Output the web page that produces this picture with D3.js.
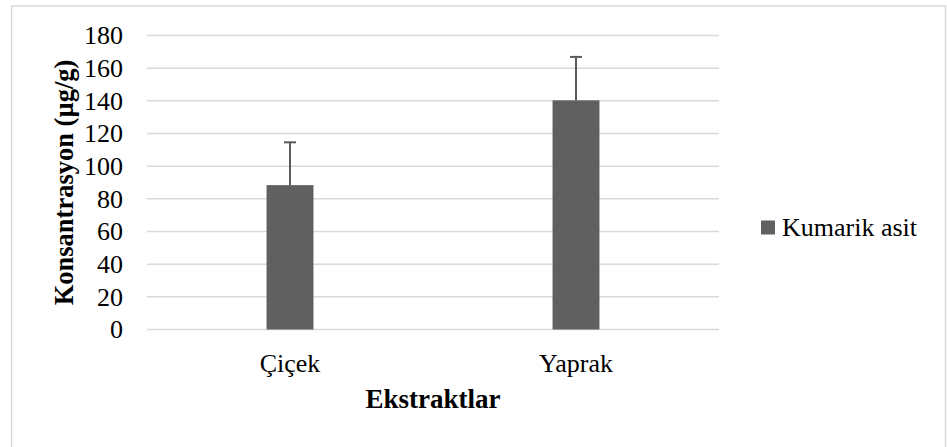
<!DOCTYPE html>
<html>
<head>
<meta charset="utf-8">
<script src="https://cdn.jsdelivr.net/npm/d3@7"></script>
<style>
  html, body { margin: 0; padding: 0; background: #fff; }
  svg { display: block; }
</style>
</head>
<body>
<svg id="chart" width="947" height="447"></svg>
<script>
const categories = ["Çiçek", "Yaprak"];
const values = [88.4, 140.3];
const errors = [26.2, 26.6];
const yTicks = [0, 20, 40, 60, 80, 100, 120, 140, 160, 180];
const seriesName = "Kumarik asit";
const xTitle = "Ekstraktlar";
const yTitle = "Konsantrasyon (µg/g)";

const FONT = "Liberation Serif";
const svg = d3.select("#chart");
const W = 947, H = 447;
const plot = { left: 147, right: 719, top: 35.5, bottom: 329.5 };

// outer border
svg.append("rect")
  .attr("x", 11.5).attr("y", 6).attr("width", W - 13).attr("height", H + 20)
  .attr("fill", "#fff").attr("stroke", "#d9d9d9").attr("stroke-width", 1.5);

const x = d3.scaleBand().domain(categories)
  .range([plot.left, plot.right]).paddingInner(0.836).paddingOuter(0.418);
const y = d3.scaleLinear().domain([0, 180]).range([plot.bottom, plot.top]);

// gridlines
svg.append("g").selectAll("line").data(yTicks).join("line")
  .attr("x1", plot.left).attr("x2", plot.right)
  .attr("y1", d => y(d)).attr("y2", d => y(d))
  .attr("stroke", "#d9d9d9").attr("stroke-width", 1.5);

// y axis labels
const yAxis = d3.axisLeft(y).tickValues(yTicks).tickSize(0).tickPadding(0);
const gy = svg.append("g").attr("transform", `translate(${plot.left - 24},0)`).call(yAxis)
  .attr("font-family", FONT).attr("font-size", 26);
gy.select(".domain").remove();
gy.selectAll("text").attr("font-family", FONT).attr("font-size", 26).attr("fill", "#000");

// bars
svg.append("g").selectAll("rect").data(categories).join("rect")
  .attr("x", d => x(d)).attr("width", x.bandwidth())
  .attr("y", (d, i) => y(values[i])).attr("height", (d, i) => y(0) - y(values[i]))
  .attr("fill", "#606060");

// error bars
const eb = svg.append("g").attr("stroke", "#5a5a5a").attr("stroke-width", 2);
categories.forEach((c, i) => {
  const cx = x(c) + x.bandwidth() / 2;
  eb.append("line").attr("x1", cx).attr("x2", cx)
    .attr("y1", y(values[i])).attr("y2", y(values[i] + errors[i]));
  eb.append("line").attr("x1", cx - 6).attr("x2", cx + 6)
    .attr("y1", y(values[i] + errors[i])).attr("y2", y(values[i] + errors[i]));
});

// x axis labels
const xAxis = d3.axisBottom(x).tickSize(0).tickPadding(0);
const gx = svg.append("g").attr("transform", `translate(0,${plot.bottom + 42})`).call(xAxis)
  .attr("font-family", FONT).attr("font-size", 26);
gx.select(".domain").remove();
gx.selectAll("text").attr("dy", 0).attr("font-family", FONT).attr("font-size", 26).attr("fill", "#000");

// axis titles
svg.append("text").attr("x", (plot.left + plot.right) / 2).attr("y", 408)
  .attr("text-anchor", "middle").attr("font-family", FONT).attr("font-size", 27).attr("font-weight", "bold")
  .text(xTitle);
svg.append("text")
  .attr("transform", `translate(73,${(plot.top + plot.bottom) / 2}) rotate(-90)`)
  .attr("text-anchor", "middle").attr("font-family", FONT).attr("font-size", 26.5).attr("font-weight", "bold")
  .text(yTitle);

// legend
svg.append("rect").attr("x", 761).attr("y", 220.5).attr("width", 14).attr("height", 14).attr("fill", "#606060");
svg.append("text").attr("x", 782).attr("y", 236).attr("font-family", FONT).attr("font-size", 26).text(seriesName);
</script>
</body>
</html>
